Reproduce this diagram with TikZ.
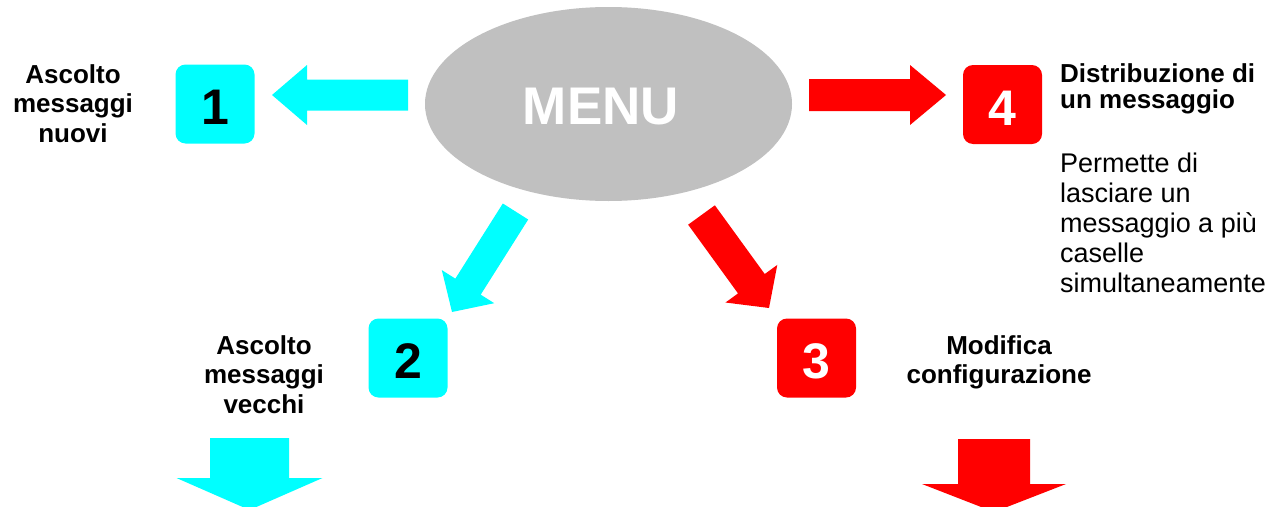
\documentclass[tikz,border=0pt]{standalone}
\usepackage{fontspec}
\setmainfont{Liberation Sans}
\usetikzlibrary{calc,shapes.geometric}
\definecolor{acyan}{HTML}{00FFFF}
\definecolor{ared}{HTML}{FF0000}
\definecolor{agray}{HTML}{C0C0C0}
% #1 colour, #2 tail, #3 tip, #4 half body width, #5 half head width, #6 head length
\newcommand\blockarrow[6]{%
  \coordinate (bh) at ($(#3)!#6!(#2)$);
  \fill[#1] ($(#2)!#4!90:(#3)$) -- ($(bh)!#4!90:(#3)$) -- ($(bh)!#5!90:(#3)$) -- (#3)
    -- ($(bh)!#5!-90:(#3)$) -- ($(bh)!#4!-90:(#3)$) -- ($(#2)!#4!-90:(#3)$) -- cycle;
}
\tikzset{
  numbox/.style={rectangle, rounded corners=10pt, minimum width=79pt, minimum height=79pt, inner sep=0pt},
  digit/.style={font=\fontsize{50}{50}\selectfont\bfseries, inner sep=0pt},
  lbl/.style={font=\fontsize{26}{29.5}\selectfont\bfseries, align=center, inner sep=0pt, anchor=north},
  body/.style={font=\fontsize{27}{30}\selectfont, align=left, inner sep=0pt, anchor=north west},
}
\begin{document}
\begin{tikzpicture}[x=1pt, y=-1pt]
\useasboundingbox (0,0) rectangle (1273,506);
\clip (0,0) rectangle (1273,506);
\fill[white] (0,0) rectangle (1273,506);

% central ellipse
\node[ellipse, fill=agray, minimum width=367pt, minimum height=194pt, inner sep=0pt] (menu) at (608.5,104) {};
\node[font=\fontsize{53}{53}\selectfont\bfseries, text=white, inner sep=0pt] (menutext) at (601,107) {MENU};

% numbered boxes
\node[numbox, fill=acyan] (b1) at (215,104) {};
\node[digit, text=black] (d1) at ([yshift=-3.5pt]b1.center) {1};
\node[numbox, fill=ared] (b4) at (1002.5,104.5) {};
\node[digit, text=white] (d4) at ([yshift=-3.5pt]b4.center) {4};
\node[numbox, fill=acyan] (b2) at (408,358) {};
\node[digit, text=black] (d2) at ([yshift=-3.5pt]b2.center) {2};
\node[numbox, fill=ared] (b3) at (816.5,358) {};
\node[digit, text=white] (d3) at ([yshift=-3.5pt]b3.center) {3};

% arrow end points
\coordinate (a1t) at (408,95);   \coordinate (a1p) at (272,95);
\coordinate (a4t) at (809,95);   \coordinate (a4p) at (946,95);
\coordinate (a2t) at (515.5,211.5); \coordinate (a2p) at (452,312);
\coordinate (a3t) at (701.5,215);   \coordinate (a3p) at (769,308);
\coordinate (a5t) at (249.5,438); \coordinate (a5p) at (249.5,510);
\coordinate (a6t) at (994,439);   \coordinate (a6p) at (994,512);

\blockarrow{acyan}{a1t}{a1p}{15.5pt}{30pt}{35pt}
\blockarrow{ared}{a4t}{a4p}{16pt}{30pt}{36pt}
\blockarrow{acyan}{a2t}{a2p}{15pt}{31pt}{30pt}
\blockarrow{ared}{a3t}{a3p}{16.5pt}{32pt}{30pt}
\blockarrow{acyan}{a5t}{a5p}{39.5pt}{73pt}{32pt}
\blockarrow{ared}{a6t}{a6p}{36pt}{72pt}{28pt}

% labels
\node[lbl] (l1) at (73,64.4) {Ascolto\\messaggi\\nuovi};
\node[lbl] (l2) at (264,335.4) {Ascolto\\messaggi\\vecchi};
\node[lbl] (l3) at (999,335.4) {Modifica\\configurazione};
\node[lbl, anchor=north west, align=left, font=\fontsize{26}{26}\selectfont\bfseries] (l4) at (1060,63.4) {Distribuzione di\\un messaggio};
\node[body] (t4) at (1060,152.7) {Permette di\\lasciare un\\messaggio a più\\caselle\\simultaneamente};
\end{tikzpicture}
\end{document}
